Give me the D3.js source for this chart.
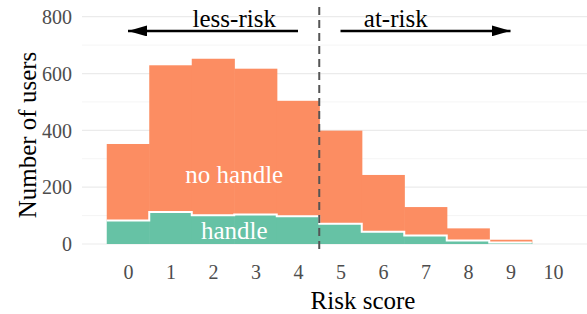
<!DOCTYPE html>
<html>
<head>
<meta charset="utf-8">
<script src="https://cdn.jsdelivr.net/npm/d3@7"></script>
<style>
  body { margin: 0; background: #fff; }
  svg text { font-family: "Liberation Serif", "DejaVu Serif", serif; }
</style>
</head>
<body>
<svg id="chart" width="587" height="314"></svg>
<script>
// data
const scores = [0, 1, 2, 3, 4, 5, 6, 7, 8, 9];
const handle = [83, 113, 101, 104, 98, 71, 43, 30, 12, 5];
const noHandle = [269, 516, 551, 513, 406, 328, 200, 100, 43, 10];
const xTicks = [0, 1, 2, 3, 4, 5, 6, 7, 8, 9, 10];
const yMajor = [0, 200, 400, 600, 800];
const yMinor = [100, 300, 500, 700];

const width = 587, height = 314;
const panelLeft = 82, panelRight = 587;
const serif = "Liberation Serif, DejaVu Serif, serif";

const svg = d3.select("#chart");

const x = d3.scaleLinear().domain([0, 10]).range([128, 553]);
const y = d3.scaleLinear().domain([0, 800]).range([244, 16.7]);

// grid lines
const grid = svg.append("g");
grid.selectAll("line.minor")
  .data(yMinor)
  .enter().append("line")
  .attr("x1", panelLeft).attr("x2", panelRight)
  .attr("y1", d => y(d)).attr("y2", d => y(d))
  .attr("stroke", "#f2f2f2").attr("stroke-width", 0.8);
grid.selectAll("line.major")
  .data(yMajor)
  .enter().append("line")
  .attr("x1", panelLeft).attr("x2", panelRight)
  .attr("y1", d => y(d)).attr("y2", d => y(d))
  .attr("stroke", "#ebebeb").attr("stroke-width", 1.2);

// stacked bars
const rows = scores.map((s, i) => ({ score: s, handle: handle[i], noHandle: noHandle[i] }));
const stack = d3.stack().keys(["handle", "noHandle"])(rows);
const colors = { handle: "#66c2a5", noHandle: "#fc8d62" };

stack.forEach(layer => {
  svg.append("g")
    .selectAll("rect")
    .data(layer)
    .enter().append("rect")
    .attr("x", d => x(d.data.score - 0.5))
    .attr("width", d => x(d.data.score + 0.5) - x(d.data.score - 0.5) + 0.6)
    .attr("y", d => y(d[1]))
    .attr("height", d => y(d[0]) - y(d[1]))
    .attr("fill", colors[layer.key]);
});

// white step line on the handle/no-handle border
const stepPts = [];
rows.forEach(d => {
  stepPts.push([d.score - 0.5, d.handle]);
  stepPts.push([d.score + 0.5, d.handle]);
});
svg.append("path")
  .attr("d", d3.line().x(d => x(d[0])).y(d => y(d[1]))(stepPts))
  .attr("fill", "none")
  .attr("stroke", "#fff")
  .attr("stroke-width", 2);

// axes
const xAxis = svg.append("g")
  .attr("transform", "translate(0,262)")
  .call(d3.axisBottom(x).tickValues(xTicks).tickSize(0).tickFormat(d3.format("d")));
xAxis.attr("font-family", serif).attr("font-size", 20);
xAxis.select(".domain").remove();
xAxis.selectAll("text").attr("fill", "#4d4d4d");

const yAxis = svg.append("g")
  .attr("transform", "translate(75,0)")
  .call(d3.axisLeft(y).tickValues(yMajor).tickSize(0));
yAxis.attr("font-family", serif).attr("font-size", 20);
yAxis.select(".domain").remove();
yAxis.selectAll("text").attr("fill", "#4d4d4d").attr("dy", "0.34em");

// axis titles
svg.append("text")
  .attr("x", 363).attr("y", 309)
  .attr("text-anchor", "middle")
  .attr("font-family", serif)
  .attr("font-size", 25)
  .text("Risk score");
svg.append("text")
  .attr("transform", "translate(36,135) rotate(-90)")
  .attr("text-anchor", "middle")
  .attr("font-family", serif)
  .attr("font-size", 25)
  .text("Number of users");

// threshold line
svg.append("line")
  .attr("x1", x(4.5)).attr("x2", x(4.5))
  .attr("y1", 7).attr("y2", 253)
  .attr("stroke", "#555").attr("stroke-width", 2)
  .attr("stroke-dasharray", "8,5");

// arrows
svg.append("defs").append("marker")
  .attr("id", "head")
  .attr("viewBox", "0 0 19 11")
  .attr("refX", 19).attr("refY", 5.5)
  .attr("markerWidth", 19).attr("markerHeight", 11)
  .attr("markerUnits", "userSpaceOnUse")
  .attr("orient", "auto")
  .append("path")
  .attr("d", "M0,0L19,5.5L0,11Z")
  .attr("fill", "#000");

const arrows = [[4, 0], [5, 9]];
svg.selectAll("line.arrow")
  .data(arrows)
  .enter().append("line")
  .attr("class", "arrow")
  .attr("x1", d => x(d[0])).attr("x2", d => x(d[1]))
  .attr("y1", y(750)).attr("y2", y(750))
  .attr("stroke", "#000").attr("stroke-width", 2.5)
  .attr("marker-end", "url(#head)");

// annotations
const notes = [
  { t: "less-risk", sx: 2.5, v: 795, c: "#000" },
  { t: "at-risk", sx: 6.3, v: 795, c: "#000" },
  { t: "no handle", sx: 2.5, v: 246, c: "#fff" },
  { t: "handle", sx: 2.5, v: 50, c: "#fff" }
];
svg.selectAll("text.note")
  .data(notes)
  .enter().append("text")
  .attr("class", "note")
  .attr("x", d => x(d.sx)).attr("y", d => y(d.v))
  .attr("dy", "0.35em")
  .attr("text-anchor", "middle")
  .attr("fill", d => d.c)
  .attr("font-family", serif)
  .attr("font-size", 25)
  .text(d => d.t);
</script>
</body>
</html>
